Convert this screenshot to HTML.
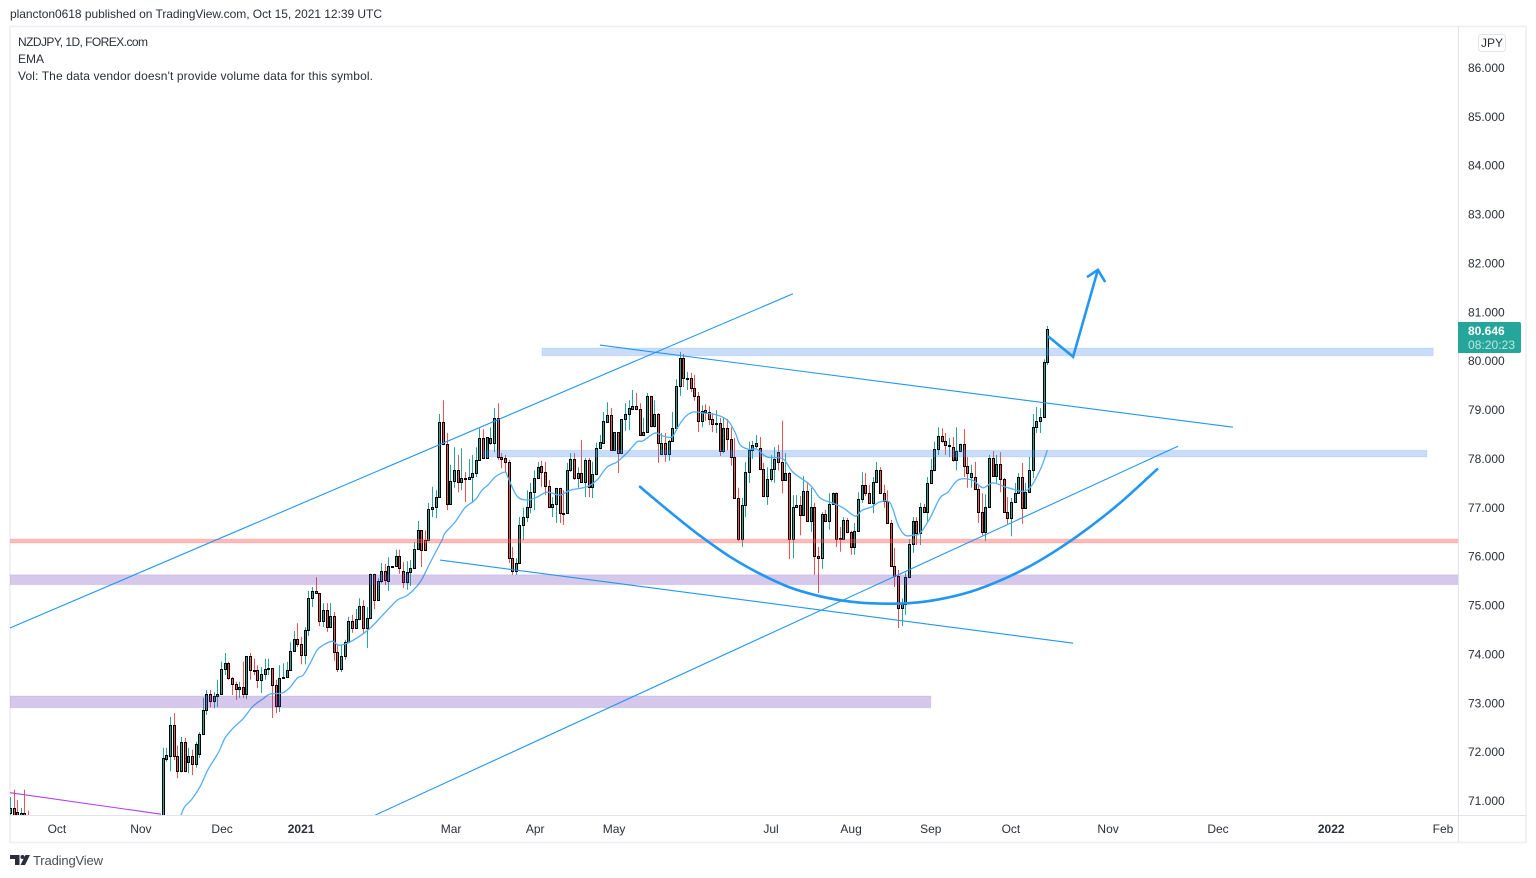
<!DOCTYPE html>
<html lang="en">
<head>
<meta charset="utf-8">
<title>NZDJPY 1D chart</title>
<style>
html,body{margin:0;padding:0;background:#fff;width:1536px;height:878px;overflow:hidden}
svg{display:block;font-family:"Liberation Sans",Arial,sans-serif}
text{fill:#2a2e39;font-size:12px}
</style>
</head>
<body>
<svg id="chart" xmlns="http://www.w3.org/2000/svg" width="1536" height="878" viewBox="0 0 1536 878">
  <defs><clipPath id="plot-clip"><rect x="10" y="27" width="1448" height="788"/></clipPath></defs>
  <rect x="0" y="0" width="1536" height="878" fill="#ffffff"/>
  <text x="10" y="18" textLength="372" lengthAdjust="spacing">plancton0618 published on TradingView.com, Oct 15, 2021 12:39 UTC</text>
  <rect x="10" y="26.5" width="1516" height="816" fill="none" stroke="#eeeef4" stroke-width="1.6"/>
  <g id="plot" clip-path="url(#plot-clip)">
    <g id="candles"></g>
    <path id="ema" fill="none" stroke="#55aef5" stroke-width="1.3"/>
    <g id="zones"></g>
    <g id="lines"></g>
    <path id="arc" fill="none" stroke="#2196f3" stroke-width="2.6" stroke-linecap="round" stroke-linejoin="round"/>
    <path id="arrow" fill="none" stroke="#2196f3" stroke-width="2.6" stroke-linejoin="miter"/>
    <path id="arrow-head" fill="none" stroke="#2196f3" stroke-width="2.6"/>
  </g>
  <g>
    <text x="18" y="46" textLength="130" lengthAdjust="spacing">NZDJPY, 1D, FOREX.com</text>
    <text x="18" y="63">EMA</text>
    <text x="18" y="80" textLength="355" lengthAdjust="spacing">Vol: The data vendor doesn't provide volume data for this symbol.</text>
  </g>
  <line x1="10" y1="815.5" x2="1526" y2="815.5" stroke="#e0e3eb"/>
  <line x1="1458.5" y1="27" x2="1458.5" y2="842" stroke="#e0e3eb"/>
  <g id="price-axis"></g>
  <g id="time-axis"></g>
  <g>
    <rect x="1478.5" y="34.5" width="27" height="17" rx="3" fill="#fff" stroke="#e0e3eb"/>
    <text x="1492" y="47" text-anchor="middle">JPY</text>
  </g>
  <g>
    <path d="M1458 322H1519a2 2 0 0 1 2 2V351a2 2 0 0 1 -2 2H1458Z" fill="#26a69a"/>
    <text x="1468" y="335" style="fill:#ffffff;font-weight:bold">80.646</text>
    <text x="1468" y="349" style="fill:#bfe6e2" textLength="47" lengthAdjust="spacing">08:20:23</text>
  </g>
  <g>
    <path d="M10 855H19.5V865H15V859H10ZM25.5 855H30L25 865H20.5Z" fill="#2a2e39"/>
    <circle cx="22.5" cy="857" r="2" fill="#2a2e39"/>
    <text x="33" y="865" style="font-size:13px;fill:#4a4e58" textLength="70" lengthAdjust="spacing">TradingView</text>
  </g>
</svg>
<script>
// Candle values (prices), oldest first. Bars before the first drawn rally sit under the visible range.
const opens=[70.75,70.85,70.77,70.5,70.75,70.5,
70.2,70.2,70.3,70.15,70.05,69.9,69.95,70.1,70.2,70.05,69.85,69.7,69.8,69.95,70.05,69.9,69.75,69.6,69.7,69.85,69.7,69.55,69.45,69.6,69.75,69.65,69.5,69.4,69.55,69.7,69.85,69.75,69.9,70,70.1,70.2,
70.35,71.85,71.91,72.55,71.91,71.6,72.2,71.79,71.91,71.75,
71.95,72.36,72.85,73.18,73.04,73.14,73.18,73.69,73.81,73.51,
73.39,73.28,73.32,73.18,73.96,73.67,73.67,73.47,73.59,73.69,
73.71,73.36,72.93,73.51,73.53,73.67,74.06,74.31,74.2,73.98,
74.49,75.14,75.29,75.25,74.67,74.9,74.55,74.78,74.04,73.69,
73.96,74.24,74.67,74.53,74.72,74.98,74.53,74.74,75.64,75.1,
75.49,75.7,75.49,75.8,75.8,76,75.7,75.47,75.68,75.76,
76.15,76.53,76.33,76.33,76.97,77.01,77.21,78.75,78.29,77.07,
77.54,77.76,77.52,77.6,77.58,77.62,77.7,77.97,78.42,78.01,
78.32,78.32,78.83,78.03,78,77.93,75.96,75.7,75.86,76.64,
76.8,77.01,77.31,77.6,77.84,77.72,77.44,77.01,77.07,77.4,
76.88,76.88,77.76,77.99,77.6,77.7,77.52,77.97,77.42,77.68,
78.21,78.32,78.75,78.89,78.17,78.54,78.11,78.81,78.91,79.01,
79.07,79.01,78.48,78.54,79.28,78.66,78.91,78.09,78.32,78.09,
78.36,78.62,79.48,80.05,79.63,79.65,79.44,79.28,78.77,78.99,
78.95,78.81,78.71,78.73,78.15,78.62,78.4,78.03,77.19,76.35,
77.05,77.72,78.17,78.26,78.21,77.78,77.23,77.58,77.78,78.13,
77.93,77.56,77.7,76.35,77.01,77.05,76.84,77.33,76.72,77.01,
76,75.96,76.86,76.72,77.07,77.29,76.37,76.35,76.74,76.5,
76.19,76.52,77.17,77.46,77.29,77.09,77.52,77.76,77.29,77.13,
76.68,75.8,75.6,74.94,75.02,75.57,76.25,76.72,76.47,77.01,
76.9,77.5,77.76,78.19,78.46,78.36,78.25,78.23,77.97,78.15,
78.3,77.85,77.62,77.62,77.37,76.9,76.5,77.01,78.01,77.64,
77.89,77.58,76.9,76.78,77.11,77.29,77.62,76.99,77.31,77.76,
78.64,78.77,78.85,79.97];
const highs=[71.07,71.22,71.01,70.85,71.22,70.79,
70.3,70.4,70.4,70.25,70.15,70.05,70.2,70.3,70.3,70.15,69.95,69.9,70.05,70.15,70.15,70,69.85,69.8,69.95,69.95,69.8,69.65,69.7,69.85,69.85,69.75,69.6,69.65,69.8,69.95,69.95,70,70.1,70.2,70.3,70.45,
72.08,72.08,72.71,72.79,72.12,72.3,72.28,72.08,72.04,72.2,
72.4,73.1,73.26,73.26,73.22,73.47,73.84,74.02,73.84,73.53,
73.43,73.43,73.84,73.96,74.02,73.9,73.77,73.73,73.9,73.9,
73.71,73.47,73.77,73.81,73.84,74.24,74.47,74.63,74.35,74.55,
75.29,75.37,75.57,75.25,75.04,75.04,75.04,74.86,74.18,74.18,
74.29,74.76,74.8,74.92,75.14,75.1,74.96,75.64,75.64,75.55,
75.86,75.84,75.98,75.8,76.13,76.13,75.88,75.9,75.92,76.29,
76.72,76.53,76.53,77.09,77.42,77.35,78.91,79.19,78.52,77.87,
78.23,78.07,78.21,77.72,77.99,78.07,78.23,78.62,78.6,78.44,
78.64,79.03,79.13,78.11,78.07,77.97,76.19,75.96,76.8,76.99,
77.35,77.5,77.76,77.93,77.95,77.93,77.56,77.21,77.4,77.4,
77.35,77.91,78.11,78.11,77.82,78.38,78.01,78.01,77.93,78.32,
78.48,78.95,79.15,79.03,78.54,78.54,78.81,79.13,79.19,79.4,
79.34,79.13,78.83,79.34,79.28,79.19,78.93,78.52,78.52,78.38,
78.95,79.62,80.18,80.14,79.77,79.75,79.71,79.36,79.09,79.11,
79.07,78.93,78.99,78.83,78.83,78.81,78.64,78.42,77.4,77.19,
77.93,78.34,78.36,78.48,78.44,77.91,77.82,78.07,78.23,78.28,
78.77,78.11,77.72,77.25,77.25,77.23,77.64,77.52,77.4,77.09,
76.19,76.9,76.95,77.29,77.31,77.31,76.6,76.8,76.78,76.52,
76.68,77.31,77.72,77.7,77.46,77.62,77.93,77.82,77.46,77.35,
76.74,76.17,75.72,75.14,75.66,76.35,76.8,76.8,77.09,77.07,
77.62,77.99,78.34,78.64,78.62,78.52,78.42,78.44,78.64,78.3,
78.6,78.03,77.87,77.93,77.46,77.29,77.27,78.07,78.15,78.07,
78.13,77.6,77.21,77.19,77.5,77.7,77.91,77.5,78.03,78.91,
79.05,79.03,80.03,80.71];
const lows=[70.5,70.4,70.3,70.4,70.2,70,
70.05,70.1,70.05,69.95,69.8,69.8,69.85,70,69.95,69.75,69.6,69.6,69.7,69.85,69.8,69.65,69.5,69.5,69.6,69.6,69.45,69.35,69.35,69.5,69.55,69.4,69.3,69.3,69.45,69.6,69.65,69.65,69.8,69.9,70,70.1,
70.2,71.79,71.6,71.83,71.46,71.58,71.58,71.56,71.52,71.67,
71.87,72.34,72.75,72.91,72.89,72.91,73.16,73.57,73.47,73.16,
73.06,73.1,73.1,73.08,73.47,73.57,73.3,73.2,73.47,73.57,
72.69,72.79,72.81,73.49,73.53,73.67,74.06,74.14,73.79,73.79,
74.37,74.96,75.25,74.57,74.55,74.45,74.55,73.86,73.63,73.63,
73.88,74.22,74.43,74.53,74.69,74.43,74.12,74.71,74.92,75.1,
75.45,75.41,75.29,75.78,75.78,75.64,75.35,75.31,75.39,75.74,
76.13,75.78,76.11,76.31,76.8,76.78,77.21,78.29,76.94,77.05,
77.4,77.31,77.35,77.11,77.58,77.09,77.62,77.95,78.01,78.01,
78.28,78.13,77.97,77.8,77.72,75.86,75.62,75.62,75.84,76.33,
76.7,76.88,76.94,77.6,77.42,77.25,77.01,76.8,76.68,76.68,
76.64,76.88,77.72,77.56,77.4,77.5,77.21,77.21,77.19,77.66,
78.19,78.32,78.75,78.15,78.15,77.7,78.09,78.56,78.58,78.99,
78.99,78.46,78.46,78.54,78.64,78.64,77.91,78.09,77.93,77.95,
78.34,78.62,79.28,79.46,79.4,79.36,79.18,78.54,78.64,78.77,
78.68,78.54,78.52,78.05,78.11,78.17,77.85,77.19,76.31,76.19,
76.8,77.5,77.99,78.21,77.76,77.23,77.05,77.52,77.5,77.76,
77.29,77.54,75.94,75.96,77.01,76.43,76.84,76.72,76.5,75.62,
75.25,75.74,76.72,76.54,77.05,76.19,76.09,76.33,76.47,76.03,
76.03,76.5,77.09,77.23,77.09,76.88,77.52,77.29,76.99,76.68,
75.78,75.37,74.53,74.57,74.8,75.55,76.07,76.23,76.23,76.9,
76.7,77.48,77.74,78.07,78.32,78.07,78.03,77.93,77.76,78.13,
77.62,77.4,77.4,77.35,76.68,76.43,76.31,77.01,77.62,77.5,
77.31,76.9,76.66,76.41,77.11,77.29,76.66,76.97,77.31,77.6,
78.52,78.52,78.83,79.91];
const closes=[70.85,70.6,70.45,70.75,70.4,70.2,
70.2,70.3,70.15,70.05,69.9,69.95,70.1,70.2,70.05,69.85,69.7,69.8,69.95,70.05,69.9,69.75,69.6,69.7,69.85,69.7,69.55,69.45,69.6,69.75,69.65,69.5,69.4,69.55,69.7,69.85,69.75,69.9,70,70.1,70.2,70.35,
71.87,71.93,72.55,71.91,71.6,72.2,71.6,71.91,71.75,72.16,
72.36,72.85,73.18,73.04,73.14,73.18,73.69,73.81,73.51,73.39,
73.28,73.32,73.18,73.96,73.67,73.65,73.47,73.59,73.69,73.71,
73.36,72.93,73.51,73.53,73.67,74.06,74.31,74.2,73.98,74.49,
75.14,75.29,75.25,74.67,74.9,74.55,74.78,74.04,73.69,73.96,
74.24,74.67,74.53,74.72,74.98,74.53,74.74,75.64,75.1,75.49,
75.7,75.51,75.8,75.78,76,75.76,75.47,75.68,75.76,76.15,
76.53,76.13,76.13,76.97,77.01,77.21,78.75,78.29,77.07,77.54,
77.76,77.52,77.6,77.58,77.62,77.7,77.97,78.42,78.01,78.44,
78.42,78.83,78.03,77.99,77.93,75.96,75.7,75.86,76.64,76.8,
77.01,77.31,77.6,77.82,77.72,77.44,77.01,77.07,77.4,76.88,
76.86,77.76,77.99,77.6,77.7,77.52,77.97,77.42,77.68,78.21,
78.34,78.77,78.89,78.17,78.54,78.11,78.81,78.91,79.03,79.07,
79.01,78.48,78.54,79.28,78.66,78.91,78.32,78.32,78.09,78.36,
78.62,79.48,80.05,79.65,79.65,79.44,79.28,78.77,78.97,78.95,
78.81,78.71,78.73,78.15,78.62,78.4,78.03,77.19,76.35,77.05,
77.72,78.17,78.28,78.32,77.78,77.23,77.58,77.78,77.99,77.93,
77.56,77.7,76.35,77.01,77.05,76.84,77.33,76.72,77.01,76,
75.96,76.86,76.72,77.07,77.29,76.35,76.35,76.74,76.5,76.19,
76.52,77.17,77.46,77.29,77.09,77.52,77.76,77.29,77.13,76.68,
75.8,75.6,74.94,75.02,75.57,76.25,76.72,76.47,77.01,76.9,
77.5,77.76,78.19,78.46,78.36,78.27,78.27,77.97,78.15,78.3,
77.85,77.7,77.7,77.37,76.9,76.5,77.01,78.01,77.64,77.89,
77.58,76.9,76.78,77.11,77.29,77.62,76.99,77.31,77.76,78.64,
78.77,78.85,79.97,80.646];

// EMA: bars back from the latest bar, and the EMA price there.
const emaBarsBack=[238,237,235,232.8,230.6,227.8,225.9,223.7,221,218.2,215.5,213.5,210.2,208,206,204.4,202.5,200.6,198.9,196.4,194.8,192.3,188.8,186,182.5,178.6,175.8,172.3,169.6,166.3,165.5,162.7,160,157.2,155.3,153.6,151.7,149,148.1,145.7,142.9,140.2,137.4,133.9,131.1,126.5,123.7,121,118.2,115.5,112.7,111.1,107.8,105.6,103.1,101.5,99.5,97.3,94.6,90.7,87.7,85.8,84.4,82.2,79.8,77,72.6,69.9,65.2,62.4,59.1,56.1,52.8,50.9,48.2,46,43.2,41,39.1,36.9,35,32.2,29.5,27.3,24.5,20.7,17.7,14.9,10.8,5.6,2,0];
const emaValues=[70.7,70.87,71.03,71.28,71.63,71.97,72.28,72.48,72.67,72.93,73.08,73.18,73.2,73.32,73.51,73.57,73.81,74.08,74.18,74.26,74.18,74.22,74.37,74.53,74.8,75.1,75.2,75.47,75.86,76.33,76.47,76.7,76.99,77.15,77.35,77.46,77.62,77.72,77.6,77.23,77.15,77.21,77.31,77.25,77.35,77.42,77.56,77.82,77.93,78.11,78.34,78.36,78.52,78.46,78.44,78.64,78.85,78.95,78.93,78.89,78.77,78.54,78.28,78.19,78.19,78.03,77.99,77.72,77.46,77.19,77.09,76.99,76.82,76.94,77.01,77.11,77.09,76.64,76.43,76.43,76.47,76.78,77.19,77.31,77.56,77.56,77.4,77.5,77.4,77.35,77.76,78.17];

// Axis ticks
const priceTicks=[86,85,84,83,82,81,80,79,78,77,76,75,74,73,72,71];
const timeLabels=["Oct","Nov","Dec","2021","Mar","Apr","May","Jul","Aug","Sep","Oct","Nov","Dec","2022","Feb"];
const timeTickBarsBack=[272.1,249,226.7,205,163.8,140.7,119,75.9,53.9,32,10,-16.7,-46.9,-78,-108.7];
const timeLabelBold=["2021","2022"];

// Drawings anchored in chart coordinates (bars back from latest bar, price)
const zoneNames=["blue-zone-upper","blue-zone-lower","pink-level","purple-zone-upper","purple-zone-lower"];
const zoneFromBack=[138.8,155,290,290,290];
const zoneToBack=[-106,-104.3,-120,-120,32];
const zoneTopPrices=[80.26,78.17,76.35,75.62,73.14];
const zoneBottomPrices=[80.10,78.03,76.27,75.42,72.90];
const zoneFills=["rgba(75,138,235,.3)","rgba(75,138,235,.3)","rgba(255,82,82,.4)","rgba(103,58,183,.28)","rgba(103,58,183,.28)"];

const lineNames=["rising-channel-upper","falling-channel-upper","falling-channel-lower","rising-channel-lower","purple-trend-line"];
const lineFromBack=[285,122.9,166.8,184.7,285];
const lineFromPrice=[74.53,80.32,75.92,70.70,71.16];
const lineToBack=[69.9,-51,-7.1,-35.9,243.5];
const lineToPrice=[81.37,78.64,74.22,78.25,70.72];
const lineColors=["#2196f3","#2196f3","#2196f3","#2196f3","#b23cf5"];

const arcBarsBack=[111.9,103.7,95.4,87.2,78.9,70.7,62.4,54.2,46,37.7,29.5,21.2,13,4.7,-3.5,-11.7,-20,-30.2];
const arcPrices=[77.42,76.91,76.42,75.99,75.64,75.36,75.18,75.07,75.03,75.04,75.12,75.27,75.5,75.8,76.17,76.6,77.09,77.78];
const arrowBarsBack=[-0.2,-7.1,-13.9];
const arrowPrices=[80.5,80.08,81.86];
const arrowHeadBarsBack=[-10.9,-13.9,-15.9];
const arrowHeadPrices=[81.71,81.86,81.61];

const NS="http://www.w3.org/2000/svg";
const lastBarX=1047.3, barStep=3.64;
const priceAt86Y=67.5, pxPerUnit=48.87;
function xBack(back){return lastBarX-back*barStep;}
function yPrice(p){return priceAt86Y+(86-p)*pxPerUnit;}
function polyPath(backs,prices){
  let d="";
  for(let i=0;i<backs.length;i++){d+=(i?"L":"M")+xBack(backs[i]).toFixed(1)+" "+yPrice(prices[i]).toFixed(1);}
  return d;
}
function smoothPath(backs,prices){
  const pts=backs.map((b,i)=>[xBack(b),yPrice(prices[i])]);
  let d="M"+pts[0][0].toFixed(1)+" "+pts[0][1].toFixed(1);
  for(let i=0;i<pts.length-1;i++){
    const p0=pts[Math.max(i-1,0)],p1=pts[i],p2=pts[i+1],p3=pts[Math.min(i+2,pts.length-1)];
    const c1x=p1[0]+(p2[0]-p0[0])/6,c1y=p1[1]+(p2[1]-p0[1])/6;
    const c2x=p2[0]-(p3[0]-p1[0])/6,c2y=p2[1]-(p3[1]-p1[1])/6;
    d+="C"+c1x.toFixed(1)+" "+c1y.toFixed(1)+" "+c2x.toFixed(1)+" "+c2y.toFixed(1)+" "+p2[0].toFixed(1)+" "+p2[1].toFixed(1);
  }
  return d;
}

// Candles
const candleGroup=document.getElementById("candles");
const N=closes.length;
for(let i=0;i<N;i++){
  const cx=Math.round(xBack(N-1-i))+0.5;
  const up=closes[i]>=opens[i];
  const color=up?"#26a69a":"#ef5350";
  const wick=document.createElementNS(NS,"line");
  
  
  wick.setAttribute("x1",cx);
  wick.setAttribute("x2",cx);
  wick.setAttribute("y1",yPrice(highs[i]).toFixed(1));
  wick.setAttribute("y2",yPrice(lows[i]).toFixed(1));
  wick.setAttribute("stroke",color);
  candleGroup.appendChild(wick);
  const top=Math.round(yPrice(Math.max(opens[i],closes[i])));
  const bot=Math.round(yPrice(Math.min(opens[i],closes[i])));
  const body=document.createElementNS(NS,"rect");
  
  
  body.setAttribute("x",cx-1);
  body.setAttribute("y",top+0.5);
  body.setAttribute("width",2);
  body.setAttribute("height",Math.max(bot-top,1));
  body.setAttribute("fill",color);
  body.setAttribute("stroke","#000000");
  candleGroup.appendChild(body);
}

// EMA
document.getElementById("ema").setAttribute("d",smoothPath(emaBarsBack,emaValues));

// Zones
const zoneGroup=document.getElementById("zones");
for(let i=0;i<zoneNames.length;i++){
  const r=document.createElementNS(NS,"rect");
  
  
  const x1=xBack(zoneFromBack[i]),x2=xBack(zoneToBack[i]);
  const y1=yPrice(zoneTopPrices[i]),y2=yPrice(zoneBottomPrices[i]);
  r.setAttribute("x",x1.toFixed(1));
  r.setAttribute("y",y1.toFixed(1));
  r.setAttribute("width",(x2-x1).toFixed(1));
  r.setAttribute("height",(y2-y1).toFixed(1));
  r.setAttribute("fill",zoneFills[i]);
  r.setAttribute("stroke",zoneFills[i]);
  r.setAttribute("stroke-opacity","0.45");
  zoneGroup.appendChild(r);
}

// Trend lines
const lineGroup=document.getElementById("lines");
for(let i=0;i<lineNames.length;i++){
  const l=document.createElementNS(NS,"line");
  
  
  l.setAttribute("x1",xBack(lineFromBack[i]).toFixed(1));
  l.setAttribute("y1",yPrice(lineFromPrice[i]).toFixed(1));
  l.setAttribute("x2",xBack(lineToBack[i]).toFixed(1));
  l.setAttribute("y2",yPrice(lineToPrice[i]).toFixed(1));
  l.setAttribute("stroke",lineColors[i]);
  l.setAttribute("stroke-width","1.1");
  lineGroup.appendChild(l);
}

// Brush arc and arrow
document.getElementById("arc").setAttribute("d",smoothPath(arcBarsBack,arcPrices));
document.getElementById("arrow").setAttribute("d",polyPath(arrowBarsBack,arrowPrices));
document.getElementById("arrow-head").setAttribute("d",polyPath(arrowHeadBarsBack,arrowHeadPrices));

// Price axis
const priceAxis=document.getElementById("price-axis");
for(let i=0;i<priceTicks.length;i++){
  const t=document.createElementNS(NS,"text");
  
  
  t.setAttribute("x",1468);
  t.setAttribute("y",(yPrice(priceTicks[i])+4.5).toFixed(1));
  t.textContent=priceTicks[i].toFixed(3);
  priceAxis.appendChild(t);
}

// Time axis
const timeAxis=document.getElementById("time-axis");
for(let i=0;i<timeLabels.length;i++){
  const t=document.createElementNS(NS,"text");
  
  
  t.setAttribute("x",xBack(timeTickBarsBack[i]).toFixed(1));
  t.setAttribute("y",833);
  t.setAttribute("text-anchor","middle");
  if(timeLabelBold.indexOf(timeLabels[i])>=0){t.setAttribute("font-weight","bold");}
  t.textContent=timeLabels[i];
  timeAxis.appendChild(t);
}
</script>
</body>
</html>
